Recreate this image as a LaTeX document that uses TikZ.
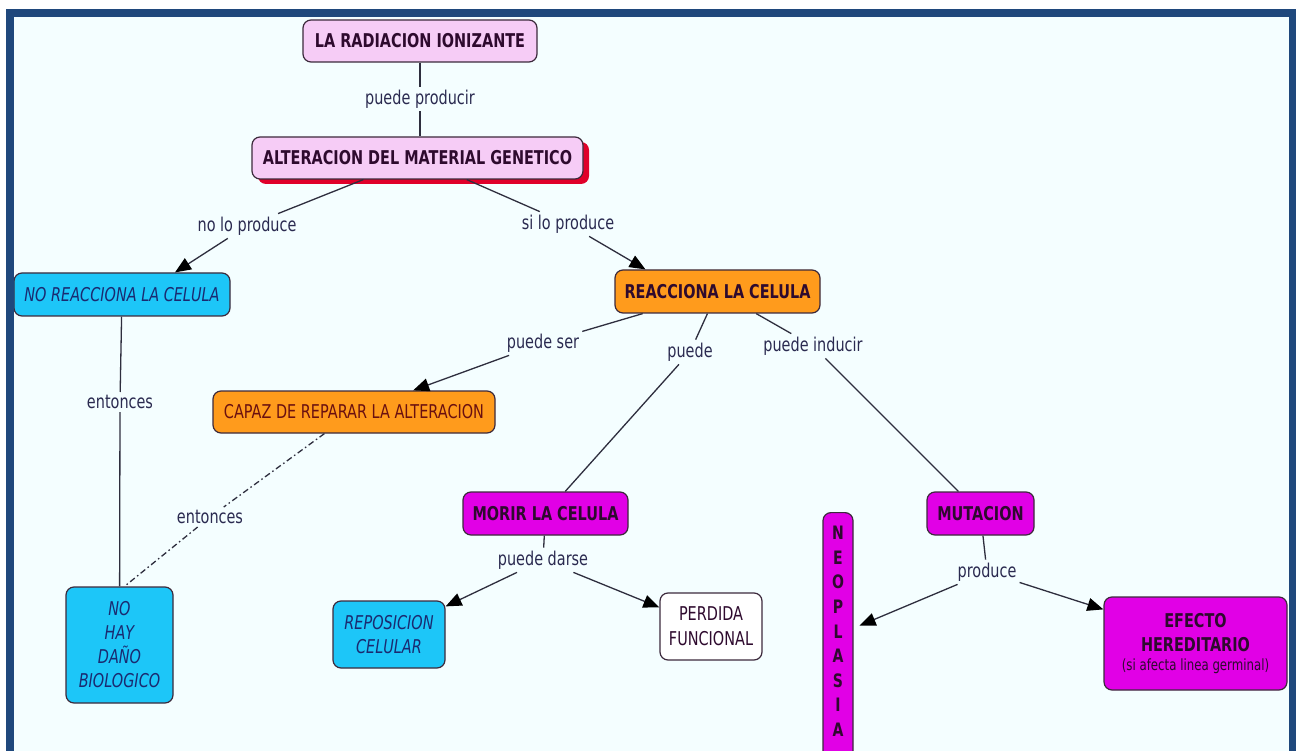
\documentclass[tikz,border=0pt]{standalone}
\usepackage{fontspec}
\setmainfont{DejaVu Sans}[FakeStretch=0.76]
\usetikzlibrary{arrows.meta,shadows}
\definecolor{bgc}{HTML}{F4FEFF}
\definecolor{framec}{HTML}{1F487C}
\definecolor{pinkc}{HTML}{F6CCF6}
\definecolor{shadc}{HTML}{E0002A}
\definecolor{cyanc}{HTML}{1DC6F8}
\definecolor{orangec}{HTML}{FF9B1C}
\definecolor{magc}{HTML}{E100E6}
\definecolor{bordc}{HTML}{3C2A3C}
\definecolor{linec}{HTML}{2E2E3E}
\definecolor{lblc}{HTML}{2A2A50}
\definecolor{darktxt}{HTML}{2E0A2E}
\definecolor{bluetxt}{HTML}{1A2A70}
\definecolor{redtxt}{HTML}{6A1010}
\begin{document}
\begin{tikzpicture}[x=1pt,y=-1pt,
  box/.style={draw=bordc, line width=1.2pt, rounded corners=8pt, inner sep=0pt, align=center},
  pinkbox/.style={box, fill=pinkc, text=darktxt, font=\fontsize{19}{24}\selectfont\bfseries},
  cyanbox/.style={box, fill=cyanc, text=bluetxt, font=\fontsize{19}{24}\selectfont\itshape},
  orangebox/.style={box, fill=orangec},
  magbox/.style={box, fill=magc, text=darktxt, font=\fontsize{19}{24}\selectfont\bfseries},
  whitebox/.style={box, fill=white, text=darktxt, font=\fontsize{19}{25}\selectfont},
  lbl/.style={font=\fontsize{19}{22}\selectfont, text=lblc, inner sep=3pt},
  conn/.style={draw=linec, line width=1.3pt},
  arr/.style={conn, -{Triangle[length=16pt,width=13pt,fill=black,color=black]}},
  dd/.style={conn, dash pattern=on 6pt off 3pt on 1.5pt off 3pt}
]
\useasboundingbox (0,0) rectangle (1296,751);
\clip (0,0) rectangle (1296,751);
\fill[white] (0,0) rectangle (1296,751);
\fill[bgc] (14,17) rectangle (1289,751);

% nodes
\node[pinkbox, minimum width=234pt, minimum height=42pt] (rad) at (420,41) {LA RADIACION IONIZANTE};
\node[pinkbox, minimum width=331pt, minimum height=42pt,
  drop shadow={fill=shadc, opacity=1, shadow xshift=6pt, shadow yshift=-5pt}] (alt) at (417.5,158) {ALTERACION DEL MATERIAL GENETICO};
\node[cyanbox, minimum width=216pt, minimum height=43pt] (norea) at (122,294.5) {NO REACCIONA LA CELULA};
\node[orangebox, text=darktxt, font=\fontsize{19}{24}\selectfont\bfseries, minimum width=205pt, minimum height=43pt] (reac) at (717.5,291.5) {REACCIONA LA CELULA};
\node[orangebox, text=redtxt, font=\fontsize{19}{24}\selectfont, minimum width=282pt, minimum height=42pt] (capaz) at (354,412) {CAPAZ DE REPARAR LA ALTERACION};
\node[cyanbox, minimum width=107pt, minimum height=116pt] (nohay) at (119.5,645) {NO\\HAY\\DAÑO\\BIOLOGICO};
\node[magbox, minimum width=165pt, minimum height=43pt] (morir) at (545.5,513.5) {MORIR LA CELULA};
\node[cyanbox, minimum width=112pt, minimum height=67pt] (repos) at (389,634.5) {REPOSICION\\CELULAR};
\node[whitebox, minimum width=102pt, minimum height=67pt] (perd) at (711,626.5) {PERDIDA\\FUNCIONAL};
\node[magbox, minimum width=107pt, minimum height=43pt] (mut) at (980.5,513.5) {MUTACION};
\node[magbox, minimum width=30pt, minimum height=248pt, anchor=north] (neo) at (838,512) {};
\foreach \l [count=\i] in {N,E,O,P,L,A,S,I,A}
  \node[text=darktxt, font=\fontsize{18.5}{20}\selectfont\bfseries, inner sep=0pt] (neo\i) at (838,508.4+24.6*\i) {\l};
\node[magbox, minimum width=183pt, minimum height=93pt] (efe) at (1195.5,643.5) {EFECTO\\HEREDITARIO\\[-5pt]{\fontsize{15.5}{18}\selectfont\mdseries (si afecta linea germinal)}};

% labels
\node[lbl] (pp) at (420,99) {puede producir};
\node[lbl] (nlp) at (247,226) {no lo produce};
\node[lbl] (slp) at (568,224) {si lo produce};
\node[lbl] (ps) at (543,343) {puede ser};
\node[lbl] (pu) at (690,352) {puede};
\node[lbl] (pi) at (813,346) {puede inducir};
\node[lbl] (ent1) at (120,402) {entonces};
\node[lbl] (ent2) at (210,517) {entonces};
\node[lbl] (pd) at (543,560) {puede darse};
\node[lbl] (pr) at (987,572) {produce};

% connectors
\draw[conn] (rad) -- (pp);
\draw[conn] (pp) -- (pp |- alt.north);
\draw[conn] (alt) -- (nlp);
\draw[arr] (nlp) -- ([xshift=53pt]norea.north);
\draw[conn] (alt) -- (slp);
\draw[arr] (slp) -- ([xshift=-72pt]reac.north);
\draw[conn] (reac) -- (ps);
\draw[arr] (ps) -- (capaz);
\draw[conn] (reac) -- (pu);
\draw[conn] (pu) -- (morir);
\draw[conn] (reac) -- (pi);
\draw[conn] (pi) -- (mut);
\draw[conn] (norea) -- (ent1);
\draw[conn] (ent1) -- (nohay);
\draw[dd] (capaz) -- (ent2);
\draw[dd] (ent2) -- ([xshift=5pt]nohay.north);
\draw[conn] (morir) -- (pd);
\draw[arr] (pd) -- ([yshift=-6pt]repos.north east);
\draw[arr] (pd) -- ([yshift=-15pt]perd.north west);
\draw[conn] (mut) -- (pr);
\draw[arr] (pr) -- ([xshift=6pt,yshift=11pt]neo.east);
\draw[arr] (pr) -- ([yshift=-13pt]efe.north west);

% frame
\fill[framec] (6,9) rectangle (1296,17);
\fill[framec] (6,9) rectangle (14,751);
\fill[framec] (1289,9) rectangle (1296,751);
\end{tikzpicture}
\end{document}
